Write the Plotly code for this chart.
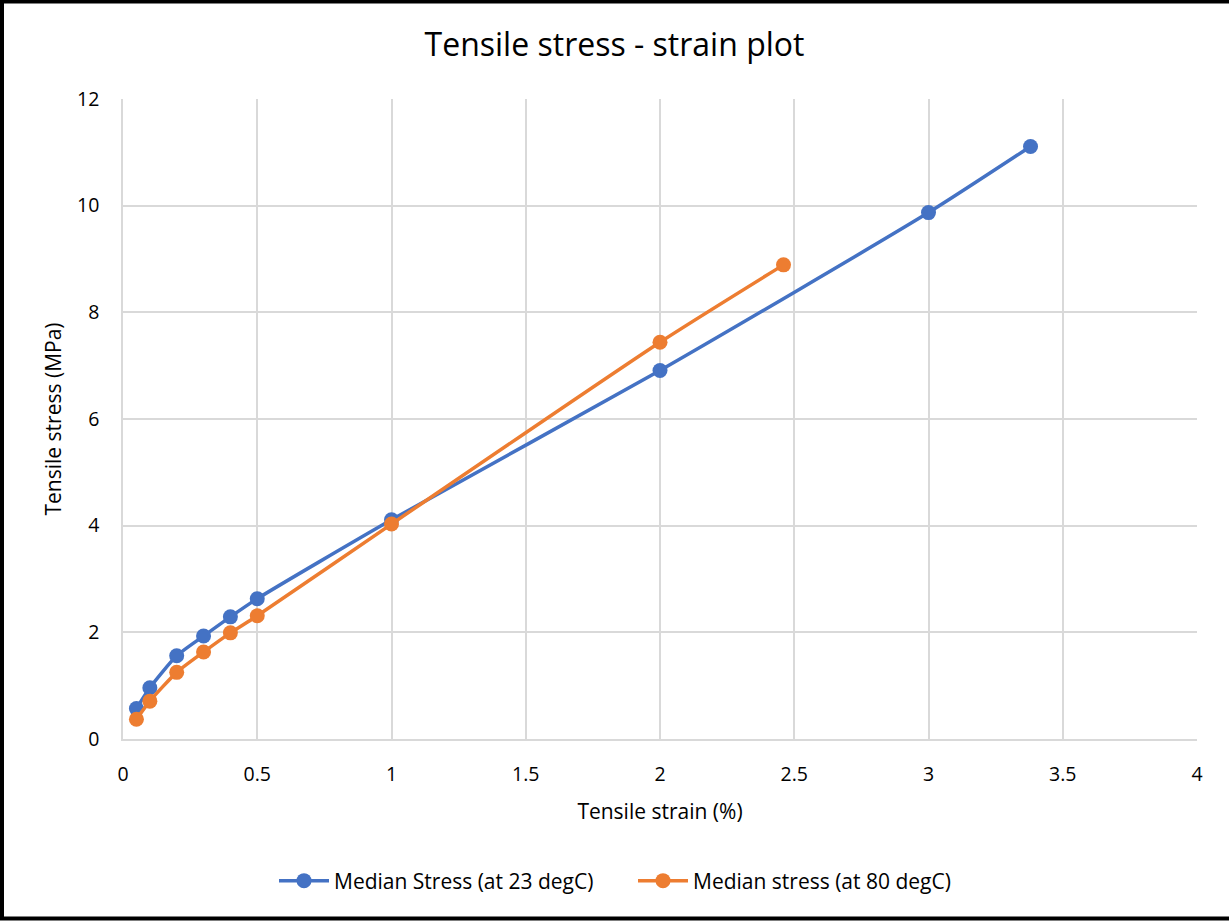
import plotly.graph_objects as go

strain_23 = [0.05, 0.1, 0.2, 0.3, 0.4, 0.5, 1.0, 2.0, 3.0, 3.38]
stress_23 = [0.57, 0.96, 1.56, 1.93, 2.29, 2.63, 4.11, 6.91, 9.87, 11.11]

strain_80 = [0.05, 0.1, 0.2, 0.3, 0.4, 0.5, 1.0, 2.0, 2.46]
stress_80 = [0.37, 0.71, 1.25, 1.63, 1.99, 2.31, 4.03, 7.44, 8.89]

name_23 = "Median Stress (at 23 degC)"
name_80 = "Median stress (at 80 degC)"

FONT = "Open Sans"

fig = go.Figure()
fig.add_trace(go.Scatter(
    x=strain_23, y=stress_23, name=name_23, mode="lines+markers",
    line=dict(color="#4472C4", width=3.5, shape="spline", smoothing=0.6),
    marker=dict(color="#4472C4", size=15),
))
fig.add_trace(go.Scatter(
    x=strain_80, y=stress_80, name=name_80, mode="lines+markers",
    line=dict(color="#ED7D31", width=3.5, shape="spline", smoothing=0.6),
    marker=dict(color="#ED7D31", size=15),
))

axis_common = dict(
    showgrid=True, gridcolor="#D9D9D9", gridwidth=1.5,
    zeroline=False, showline=True, linecolor="#D9D9D9", linewidth=1.5,
    ticks="", tickfont=dict(family=FONT, size=19.5, color="#000000"),
)

fig.update_layout(
    width=1229, height=922,
    margin=dict(l=123, r=32, t=99, b=183),
    paper_bgcolor="white", plot_bgcolor="white",
    font=dict(family=FONT, color="#000000"),
    title=dict(text="Tensile stress - strain plot", x=0.5, xref="container",
               xanchor="center", y=1 - 45 / 922, yanchor="middle",
               font=dict(family=FONT, size=32, color="#000000")),
    xaxis=dict(range=[0, 4], dtick=0.5, tick0=0, ticklabelstandoff=17,
               title=dict(text="Tensile strain (%)", font=dict(family=FONT, size=21), standoff=18),
               **axis_common),
    yaxis=dict(range=[0, 12], dtick=2, tick0=0, ticklabelstandoff=18,
               title=dict(text="Tensile stress (MPa)", font=dict(family=FONT, size=21), standoff=10),
               **axis_common),
    legend=dict(orientation="h", x=(274 - 123) / 1074, xanchor="left", y=(739 - 881) / 640,
                yanchor="middle", font=dict(family=FONT, size=21), itemwidth=50,
                entrywidth=294, entrywidthmode="pixels", traceorder="normal",
                tracegroupgap=0),
    showlegend=True,
)

fig.add_shape(type="rect", xref="paper", yref="paper",
              x0=(2 - 123) / 1074, x1=(1245 - 123) / 1074,
              y0=(739 - 918.5) / 640, y1=(739 - 1.5) / 640,
              line=dict(color="#000000", width=4), fillcolor="rgba(0,0,0,0)",
              layer="above")

fig.write_html("out.html")
